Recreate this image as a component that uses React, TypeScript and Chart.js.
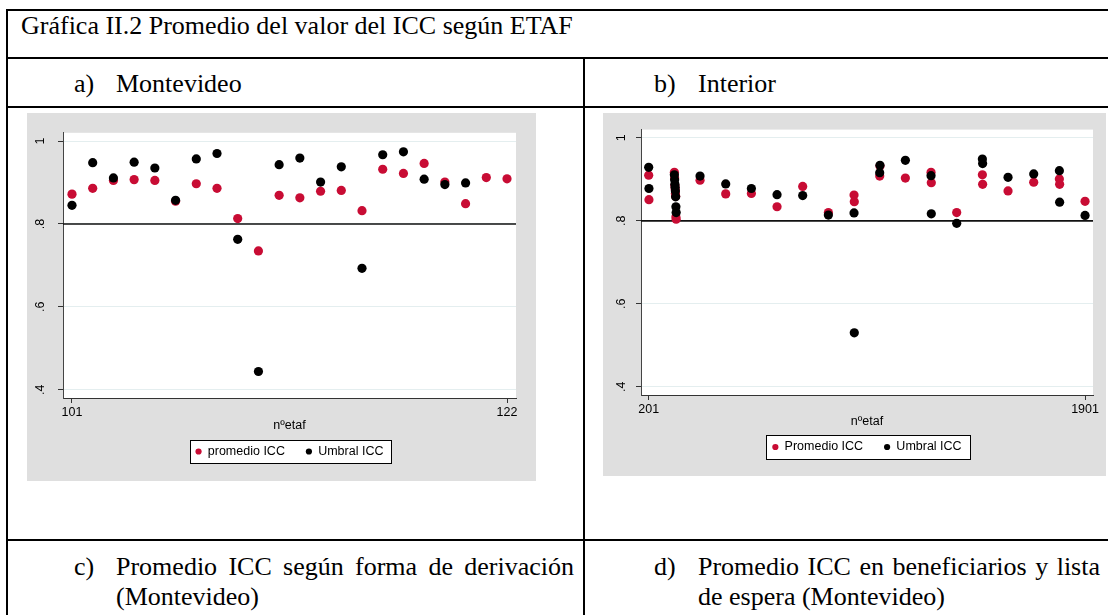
import React, { useEffect, useRef } from 'react';
import { Chart, registerables } from 'chart.js';

Chart.register(...registerables);

// ---------------- data ----------------
// a) Montevideo
const MVD_ETAF = [101, 102, 103, 104, 105, 106, 107, 108, 109, 110, 111, 112, 113, 114, 115, 116, 117, 118, 119, 120, 121, 122];
const MVD_PROMEDIO_ICC = [0.872, 0.886, 0.905, 0.907, 0.905, 0.855, 0.897, 0.886, 0.813, 0.735, 0.869, 0.863, 0.879, 0.881, 0.832, 0.932, 0.922, 0.946, 0.901, 0.849, 0.912, 0.909];
const MVD_UMBRAL_ICC = [0.845, 0.948, 0.911, 0.949, 0.935, 0.857, 0.957, 0.970, 0.763, 0.444, 0.943, 0.959, 0.901, 0.938, 0.693, 0.967, 0.974, 0.908, 0.895, 0.899, null, null];
const MVD_X_TICKS = [101, 122];

// b) Interior
const INT_ETAF = [201, 202, 301, 302, 303, 304, 305, 306, 307, 308, 401, 501, 601, 701, 801, 901, 1001, 1002, 1101, 1102, 1201, 1301, 1302, 1401, 1501, 1502, 1601, 1701, 1801, 1802, 1901];
const INT_PROMEDIO_ICC = [0.910, 0.851, 0.917, 0.903, 0.885, 0.877, 0.866, 0.859, 0.809, 0.804, 0.898, 0.865, 0.866, 0.834, 0.883, 0.820, 0.862, 0.846, 0.908, 0.932, 0.903, 0.917, 0.892, 0.820, 0.911, 0.888, 0.872, 0.893, 0.901, 0.888, 0.847];
const INT_UMBRAL_ICC = [0.929, 0.878, 0.911, 0.899, 0.888, 0.881, 0.872, 0.858, 0.834, 0.820, 0.908, 0.889, 0.878, 0.863, 0.861, 0.814, 0.819, 0.530, 0.916, 0.934, 0.946, 0.909, 0.817, 0.794, 0.949, 0.938, 0.905, 0.913, 0.921, 0.845, 0.813];
const INT_X_TICKS = [201, 1901];

const Y_TICKS = [0.4, 0.6, 0.8, 1];
const Y_TICK_LABELS = ['.4', '.6', '.8', '1'];
const UMBRAL_LINE = 0.8;

const RED = 'rgb(200,12,52)';
const BLACK = '#000';
const SANS = '"Liberation Sans", Arial, sans-serif';
const SERIF = '"Liberation Serif", "Times New Roman", serif';

type Geo = {
  w: number; h: number;
  padTop: number; padRight: number; padBottom: number;
  yWidth: number; yPad: number;
  xHeight: number; xTitlePadBottom: number;
  xMin: number; xMax: number;
};

const stataPlugin = {
  id: 'stataLook',
  beforeDraw(chart: any) {
    const { ctx, chartArea } = chart;
    ctx.save();
    ctx.fillStyle = '#ffffff';
    ctx.fillRect(chartArea.left, chartArea.top, chartArea.right - chartArea.left, chartArea.bottom - chartArea.top);
    ctx.restore();
  },
  beforeDatasetsDraw(chart: any) {
    const { ctx, chartArea } = chart;
    const y = chart.scales.y.getPixelForValue(UMBRAL_LINE);
    ctx.save();
    ctx.strokeStyle = '#111';
    ctx.lineWidth = 1.6;
    ctx.beginPath();
    ctx.moveTo(chartArea.left, y);
    ctx.lineTo(chartArea.right, y);
    ctx.stroke();
    ctx.restore();
  },
  afterDraw(chart: any) {
    const lg = chart.legend;
    if (!lg || !lg.legendHitBoxes || !lg.legendHitBoxes.length) return;
    const hb = lg.legendHitBoxes;
    let l = Infinity, r = -Infinity, t = Infinity, b = -Infinity;
    hb.forEach((h: any) => {
      l = Math.min(l, h.left); r = Math.max(r, h.left + h.width);
      t = Math.min(t, h.top); b = Math.max(b, h.top + h.height);
    });
    const { ctx } = chart;
    ctx.save();
    const x0 = Math.round(l - 6) + 0.5, y0 = Math.round(t - 5.5) + 0.5;
    const x1 = Math.round(r + 8) + 0.5, y1 = Math.round(b + 5.5) + 0.5;
    ctx.fillStyle = '#fff';
    ctx.fillRect(x0, y0, x1 - x0, y1 - y0);
    ctx.strokeStyle = '#000';
    ctx.lineWidth = 1;
    ctx.strokeRect(x0, y0, x1 - x0, y1 - y0);
    ctx.restore();
    lg.draw();
  },
};

function makeConfig(xs: number[], prom: (number | null)[], umb: (number | null)[], labels: string[], xTicks: number[], g: Geo): any {
  const font = { family: SANS, size: 12.5 };
  return {
    type: 'scatter',
    data: {
      datasets: [
        {
          label: labels[0],
          data: xs.map((x, i) => ({ x, y: prom[i] })),
          backgroundColor: RED, borderColor: RED, borderWidth: 0,
          pointRadius: 4.6, pointHoverRadius: 4.6, order: 2,
        },
        {
          label: labels[1],
          data: xs.map((x, i) => ({ x, y: umb[i] })),
          backgroundColor: BLACK, borderColor: BLACK, borderWidth: 0,
          pointRadius: 4.6, pointHoverRadius: 4.6, order: 1,
        },
      ],
    },
    options: {
      responsive: false,
      animation: false,
      devicePixelRatio: 1,
      events: [],
      layout: { padding: { top: g.padTop, right: g.padRight, bottom: g.padBottom, left: 0 } },
      plugins: {
        tooltip: { enabled: false },
        legend: {
          position: 'bottom',
          fullSize: false,
          maxHeight: 40,
          labels: {
            usePointStyle: true,
            pointStyle: 'circle',
            boxWidth: 6,
            boxHeight: 4.4,
            padding: 21,
            font,
            color: '#000',
            sort: (a: any, b: any) => a.datasetIndex - b.datasetIndex,
          },
        },
      },
      scales: {
        x: {
          type: 'linear',
          min: g.xMin,
          max: g.xMax,
          afterBuildTicks: (s: any) => { s.ticks = xTicks.map((v) => ({ value: v })); },
          afterFit: (s: any) => { s.height = g.xHeight; },
          ticks: {
            callback: (_v: any, i: number) => String(xTicks[i]),
            padding: 2.5, minRotation: 0, maxRotation: 0, autoSkip: false,
            font, color: '#000',
          },
          grid: { drawOnChartArea: false, drawTicks: true, tickLength: 5, tickColor: '#333', color: '#333' },
          border: { display: true, color: '#333', width: 1 },
          title: { display: true, text: 'nºetaf', font, color: '#000', padding: { top: 0, bottom: g.xTitlePadBottom } },
        },
        y: {
          type: 'linear',
          min: 0.38,
          max: 1.02,
          afterBuildTicks: (s: any) => { s.ticks = Y_TICKS.map((v) => ({ value: v })); },
          afterFit: (s: any) => { s.width = g.yWidth; },
          ticks: {
            callback: (_v: any, i: number) => Y_TICK_LABELS[i],
            minRotation: 90, maxRotation: 90, crossAlign: 'center',
            padding: g.yPad, font, color: '#000', autoSkip: false,
          },
          grid: { color: '#e4eeef', lineWidth: 1, drawTicks: true, tickLength: 5, tickColor: '#333' },
          border: { display: true, color: '#444', width: 1 },
        },
      },
    },
    plugins: [stataPlugin],
  };
}

function StataScatter(props: { xs: number[]; prom: (number | null)[]; umb: (number | null)[]; labels: string[]; xTicks: number[]; g: Geo }) {
  const ref = useRef<HTMLCanvasElement>(null);
  useEffect(() => {
    if (!ref.current) return;
    const chart = new Chart(ref.current, makeConfig(props.xs, props.prom, props.umb, props.labels, props.xTicks, props.g));
    return () => chart.destroy();
  }, []);
  return <canvas ref={ref} width={props.g.w} height={props.g.h} style={{ display: 'block', width: props.g.w, height: props.g.h }} />;
}

const GEO_MVD: Geo = {
  w: 509, h: 368, padTop: 12, padRight: 20, padBottom: 16.75,
  yWidth: 36, yPad: 12.3, xHeight: 26.25, xTitlePadBottom: -9.25,
  xMin: 100.566, xMax: 122.434,
};
const GEO_INT: Geo = {
  w: 503, h: 363, padTop: 12, padRight: 13, padBottom: 16.25,
  yWidth: 38, yPad: 9.1, xHeight: 24.75, xTitlePadBottom: -9.75,
  xMin: 171, xMax: 1932,
};

const TXT_SIZE = 26;

function HLine(p: { top: number; left: number; width: number }) {
  return <div style={{ position: 'absolute', top: p.top, left: p.left, width: p.width, height: 2, background: '#000' }} />;
}
function VLine(p: { top: number; left: number; height: number }) {
  return <div style={{ position: 'absolute', top: p.top, left: p.left, width: 2, height: p.height, background: '#000' }} />;
}
function Txt(p: { left: number; center: number; width?: number; justify?: boolean; children: React.ReactNode }) {
  return (
    <div
      style={{
        position: 'absolute', left: p.left, top: p.center - TXT_SIZE / 2, fontSize: TXT_SIZE, lineHeight: TXT_SIZE + 'px',
        whiteSpace: 'nowrap', color: '#000',
        width: p.width,
        textAlign: p.justify ? 'justify' : 'left',
        textAlignLast: p.justify ? 'justify' : 'auto',
      } as any}
    >
      {p.children}
    </div>
  );
}

export default function App() {
  return (
    <div style={{ position: 'absolute', left: 0, top: 0, width: 1108, height: 615, overflow: 'hidden', background: '#fff', fontFamily: SERIF }}>
      <HLine top={9} left={6} width={1102} />
      <HLine top={57} left={6} width={1102} />
      <HLine top={106} left={6} width={1102} />
      <HLine top={539} left={6} width={1102} />
      <VLine top={9} left={6} height={606} />
      <VLine top={57} left={583} height={558} />

      <Txt left={21} center={26}>Gráfica II.2 Promedio del valor del ICC según ETAF</Txt>
      <Txt left={74} center={84}>a)</Txt>
      <Txt left={116} center={84}>Montevideo</Txt>
      <Txt left={654} center={84}>b)</Txt>
      <Txt left={698} center={84}>Interior</Txt>

      <Txt left={74} center={567}>c)</Txt>
      <Txt left={116} center={567} width={458} justify>Promedio ICC según forma de derivación</Txt>
      <Txt left={116} center={597}>(Montevideo)</Txt>
      <Txt left={654} center={567}>d)</Txt>
      <Txt left={698} center={567} width={402} justify>Promedio ICC en beneficiarios y lista</Txt>
      <Txt left={698} center={597}>de espera (Montevideo)</Txt>

      <div style={{ position: 'absolute', left: 27, top: 113, width: 509, height: 368, background: '#dfdfdf' }}>
        <StataScatter xs={MVD_ETAF} prom={MVD_PROMEDIO_ICC} umb={MVD_UMBRAL_ICC} labels={['promedio ICC', 'Umbral ICC']} xTicks={MVD_X_TICKS} g={GEO_MVD} />
      </div>
      <div style={{ position: 'absolute', left: 603, top: 113, width: 503, height: 363, background: '#dfdfdf' }}>
        <StataScatter xs={INT_ETAF} prom={INT_PROMEDIO_ICC} umb={INT_UMBRAL_ICC} labels={['Promedio ICC', 'Umbral ICC']} xTicks={INT_X_TICKS} g={GEO_INT} />
      </div>
    </div>
  );
}
